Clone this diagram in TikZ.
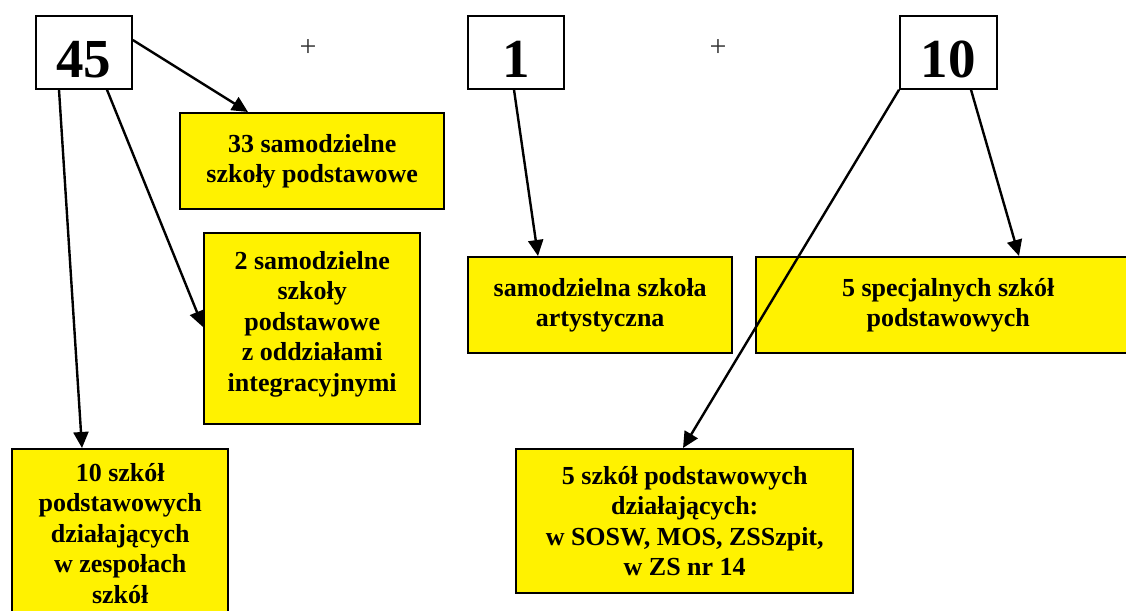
\documentclass[tikz,border=0pt]{standalone}
\usepackage{fontspec}
\setmainfont{Liberation Serif}
\usetikzlibrary{arrows.meta}
\begin{document}
\begin{tikzpicture}[x=1pt,y=-1pt,
  numbox/.style={draw, line width=1.8pt, fill=white, anchor=north west, inner sep=0pt,
    minimum width=96pt, text height=62pt, text depth=11pt,
    font=\fontsize{55}{60}\selectfont\bfseries},
  ybox/.style={draw, line width=2.4pt, fill=yellow, anchor=north west, inner sep=0pt,
    align=center, font=\fontsize{26}{30.5}\selectfont\bfseries},
  plus/.style={text=black!80, inner sep=0pt, font=\fontsize{30}{30}\selectfont},
  conn/.style={line width=2.4pt, -{Triangle[length=16pt,width=15pt]}}
]
\useasboundingbox (0,0) rectangle (1126,610);
\clip (0,0) rectangle (1126,610);
\fill[white] (0,0) rectangle (1126,610);

\node[numbox] (b45) at (35,15) {45};
\node[numbox] (b1) at (467,15) {1};
\node[numbox, minimum width=97pt] (b10) at (899,15) {10};

\node[plus] (p1) at (308,48) {+};
\node[plus] (p2) at (718,48) {+};

\node[ybox, minimum width=264pt, minimum height=96pt] (n33) at (179,112)
  {33 samodzielne\\szkoły podstawowe};
\node[ybox, minimum width=216pt, minimum height=191pt] (n2) at (203,232)
  {2 samodzielne\\szkoły\\podstawowe\\z oddziałami\\integracyjnymi\\[-16pt]\mbox{}};
\node[ybox, minimum width=216pt, minimum height=168pt] (n10s) at (11,448)
  {10 szkół\\podstawowych\\działających\\w zespołach\\szkół};
\node[ybox, minimum width=264pt, minimum height=96pt] (nart) at (467,256)
  {samodzielna szkoła\\artystyczna};
\node[ybox, minimum width=384pt, minimum height=96pt] (nspec) at (755,256)
  {5 specjalnych szkół\\podstawowych};
\node[ybox, minimum width=337pt, minimum height=144pt] (n5s) at (515,448)
  {5 szkół podstawowych\\działających:\\w SOSW, MOS, ZSSzpit,\\w ZS nr 14};

\draw[conn] ([yshift=-25pt]b45.north east) -- ([xshift=69pt]n33.north west);
\draw[conn] ([xshift=72pt]b45.south west) -- ([yshift=-95pt]n2.north west);
\draw[conn] ([xshift=24pt]b45.south west) -- ([xshift=71pt]n10s.north west);
\draw[conn] ([xshift=47pt]b1.south west) -- ([xshift=71pt]nart.north west);
\draw[conn] ([xshift=72pt]b10.south west) -- ([xshift=264pt]nspec.north west);
\draw[conn] (b10.south west) -- ([xshift=168pt]n5s.north west);
\end{tikzpicture}
\end{document}
